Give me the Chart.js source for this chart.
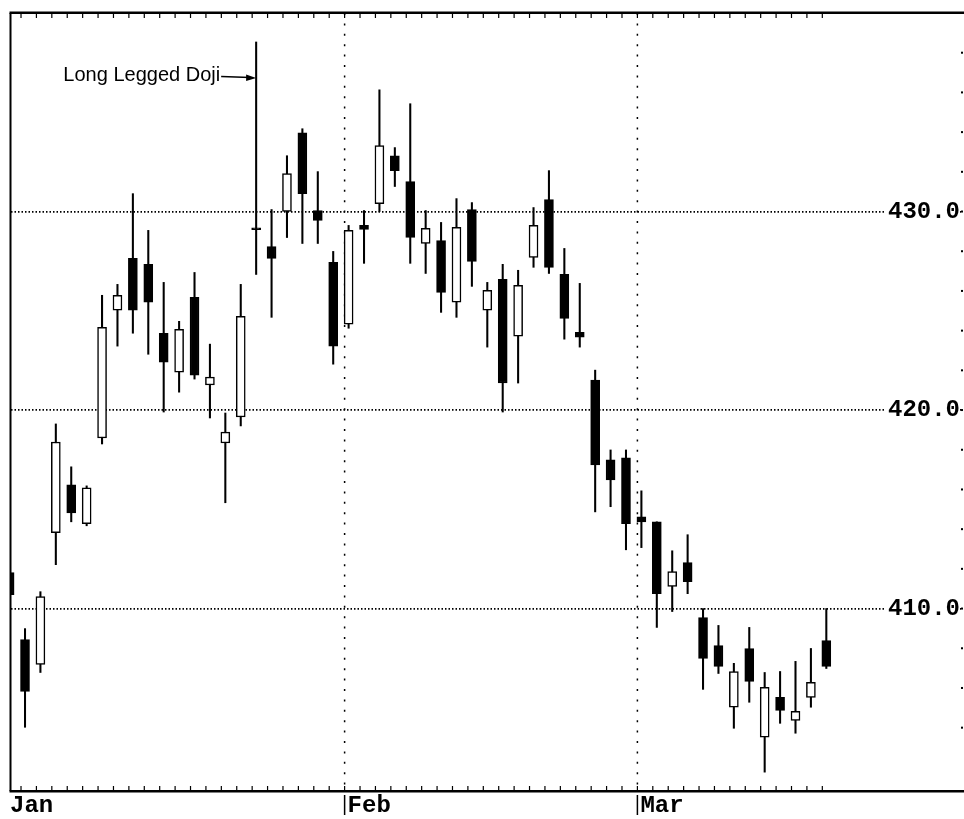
<!DOCTYPE html>
<html>
<head>
<meta charset="utf-8">
<script src="https://cdn.jsdelivr.net/npm/chart.js@4.4.1/dist/chart.umd.min.js"></script>
<style>
  html, body { margin: 0; padding: 0; background: #fff; overflow: hidden; }
  #wrap { width: 964px; height: 819px; }
</style>
</head>
<body>
<div id="wrap"><canvas id="grafico"></canvas></div>
<script>
// daily candles, index 0 is the day cut off by the left frame
const opens = [
  411.81, 408.44, 407.19, 413.82, 416.23, 414.27, 418.59, 425.03, 427.64, 427.34,
  423.87, 421.91, 425.68, 421.26, 418.34, 419.65, 429.18, 428.24, 430.00, 433.97,
  430.05, 427.44, 424.32, 429.30, 430.40, 432.81, 431.51, 428.39, 428.54, 425.43,
  430.10, 425.03, 426.58, 423.72, 427.69, 430.60, 426.83, 423.92, 421.51, 417.49,
  417.59, 414.62, 414.37, 411.11, 412.31, 409.55, 408.14, 405.03, 407.99, 403.52,
  405.53, 404.37, 405.53, 408.39
];
const highs = [
  411.81, 408.99, 410.85, 419.30, 417.14, 416.18, 425.78, 426.33, 430.90, 429.05,
  426.43, 424.47, 426.93, 423.32, 419.85, 426.33, 438.54, 430.10, 432.81, 434.17,
  432.01, 427.99, 429.30, 430.05, 436.13, 433.22, 435.43, 430.05, 429.45, 430.65,
  430.45, 426.43, 427.34, 427.04, 430.20, 432.06, 428.14, 426.38, 422.01, 417.99,
  417.99, 415.93, 414.37, 412.91, 413.72, 410.00, 409.15, 407.24, 409.05, 406.78,
  406.83, 407.34, 407.99, 410.00
];
const lows = [
  410.70, 404.02, 406.78, 412.21, 414.37, 414.17, 418.29, 423.22, 423.87, 422.81,
  419.90, 420.90, 421.56, 419.60, 415.33, 419.20, 426.83, 424.67, 428.69, 428.39,
  428.39, 422.31, 424.12, 427.39, 430.00, 431.26, 427.39, 426.88, 424.92, 424.67,
  426.23, 423.17, 419.90, 421.36, 427.19, 426.88, 423.57, 423.17, 414.87, 415.13,
  412.96, 413.07, 409.05, 409.85, 410.75, 405.93, 406.73, 403.97, 405.28, 401.76,
  404.22, 403.72, 405.03, 406.98
];
const closes = [
  410.70, 405.83, 410.60, 418.39, 414.82, 416.08, 424.17, 425.78, 425.03, 425.43,
  422.41, 424.07, 421.76, 421.66, 418.89, 424.72, 429.08, 427.64, 431.91, 430.90,
  429.55, 423.22, 429.05, 429.10, 433.32, 432.06, 428.69, 429.15, 425.93, 429.20,
  427.49, 426.03, 421.36, 426.28, 429.30, 427.19, 424.62, 423.67, 417.24, 416.48,
  414.27, 414.37, 410.75, 411.86, 411.36, 407.49, 407.09, 406.83, 406.33, 406.03,
  404.87, 404.82, 406.28, 407.09
];
const months = ['Jan', 'Feb', 'Mar'];
const monthStarts = [1, 22, 41];
const yMin = 400.81, yMax = 440, yStep = 2, yLabelStep = 10;
const xMin = 0.091, xMax = 61.87;
const note = { index: 16, price: 436.75, text: 'Long Legged Doji' };

const isLabelled = v => v < yMax && Math.abs(v - Math.round(v / yLabelStep) * yLabelStep) < 1e-6;

const corpos = opens.map((o, i) => ({ x: i, y: [o, closes[i]] }));
const pavios = opens.map((o, i) => ({ x: i, y: [lows[i], highs[i]] }));
const cores = opens.map((o, i) => closes[i] < o ? '#000' : '#fff');

const tickLead = 4;
const moldura = {
  id: 'moldura',
  beforeDatasetsDraw(chart) {
    const { ctx, chartArea: a, scales: { x } } = chart;
    ctx.save();
    ctx.strokeStyle = '#000'; ctx.lineWidth = 1.5; ctx.setLineDash([2, 8.4]);
    monthStarts.slice(1).forEach(m => {
      const px = x.getPixelForValue(m) - tickLead;
      ctx.beginPath(); ctx.moveTo(px, a.top); ctx.lineTo(px, a.bottom); ctx.stroke();
    });
    ctx.restore();
  },
  afterDraw(chart) {
    const { ctx, chartArea: a, scales: { x, y }, width } = chart;
    ctx.save();
    ctx.fillStyle = '#000';
    // frame: top, left, bottom (no right edge)
    ctx.fillRect(a.left - 1.5, a.top - 1.5, width, 2.5);
    ctx.fillRect(a.left - 1.5, a.top, 2, a.bottom - a.top);
    ctx.fillRect(a.left - 1.5, a.bottom - 1, width, 2.5);
    // day ticks on top and bottom
    opens.forEach((o, i) => {
      const px = x.getPixelForValue(i) - tickLead;
      if (px < a.left + 2) return;
      ctx.fillRect(px - 0.6, a.top, 1.2, 5);
      ctx.fillRect(px - 0.6, a.bottom - 5, 1.2, 5);
    });
    // minor dots at the right edge
    y.ticks.forEach(t => {
      if (t.value <= yMin) return;
      ctx.fillRect(a.right - 2, y.getPixelForValue(t.value) - 1, 2, 2);
    });
    // month labels
    ctx.font = 'bold 24px "Liberation Mono"';
    ctx.textBaseline = 'alphabetic';
    ctx.textAlign = 'left';
    months.forEach((m, k) => {
      if (k === 0) { ctx.fillText(m, a.left - 1, a.bottom + 21); return; }
      const px = x.getPixelForValue(monthStarts[k]) - tickLead;
      ctx.fillRect(px - 0.75, a.bottom + 4, 1.5, 20);
      ctx.fillText(m, px + 3, a.bottom + 21);
    });
    // annotation with arrow
    const tx = x.getPixelForValue(note.index), ty = y.getPixelForValue(note.price);
    ctx.font = '20px "Liberation Sans"';
    ctx.textAlign = 'right';
    ctx.fillText(note.text, tx - 36, ty + 3.5);
    ctx.lineWidth = 1.5;
    ctx.beginPath(); ctx.moveTo(tx - 35, ty - 1); ctx.lineTo(tx - 6, ty); ctx.stroke();
    ctx.beginPath(); ctx.moveTo(tx, ty + 0.5); ctx.lineTo(tx - 10, ty - 3); ctx.lineTo(tx - 10, ty + 3.5); ctx.closePath(); ctx.fill();
    ctx.restore();
  }
};

new Chart(document.getElementById('grafico').getContext('2d'), {
  type: 'bar',
  data: {
    datasets: [
      { data: corpos, backgroundColor: cores, borderColor: '#000', borderWidth: 1.5, borderSkipped: false,
        barThickness: 9, grouped: false, clip: 0 },
      { data: pavios, backgroundColor: '#000', borderWidth: 0, barThickness: 1.4, grouped: false, clip: 0 }
    ]
  },
  options: {
    responsive: true,
    maintainAspectRatio: false,
    animation: false,
    layout: { padding: { left: 11, top: 13, right: 1, bottom: 28 } },
    plugins: { legend: { display: false }, tooltip: { enabled: false } },
    scales: {
      x: { type: 'linear', display: false, offset: false, min: xMin, max: xMax },
      y: {
        position: 'right', min: yMin, max: yMax,
        afterFit: s => { s.width = 0; s.paddingTop = 0; s.paddingBottom = 0; },
        ticks: {
          stepSize: yStep, mirror: true, padding: -3, autoSkip: false, color: '#000',
          font: { family: 'Liberation Mono', weight: 'bold', size: 24 },
          callback: v => isLabelled(v) ? v.toFixed(1) : '',
          showLabelBackdrop: true,
          backdropColor: c => isLabelled(c.tick.value) ? '#fff' : 'rgba(0,0,0,0)',
          backdropPadding: { left: 3, right: 0, top: 1, bottom: 1 }
        },
        grid: {
          drawTicks: false, lineWidth: 1.8,
          color: c => c.tick && isLabelled(c.tick.value) ? '#000' : 'rgba(0,0,0,0)'
        },
        border: { display: false, dash: [1.5, 2] }
      }
    }
  },
  plugins: [moldura]
});
</script>
</body>
</html>
